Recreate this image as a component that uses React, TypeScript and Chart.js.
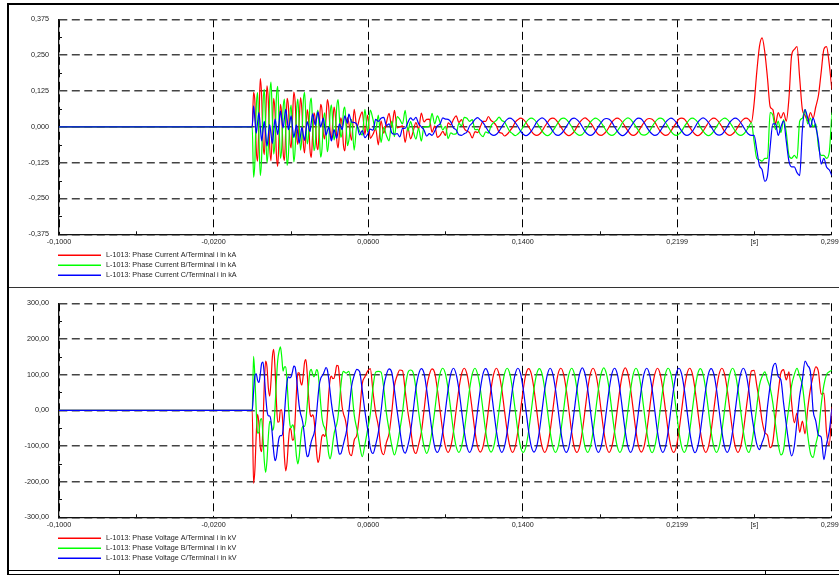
import React, { useEffect, useRef } from 'react';
import { Chart, registerables } from 'chart.js';

Chart.register(...registerables);

const FONT_FAMILY = "'Liberation Sans', Arial, Helvetica, sans-serif";
const FONT_SIZE = 7.2;
const TEXT_COLOR = '#222222';

// Time axis (s)
const T_MIN = -0.1;
const T_MAX = 0.2999;
const X_TICK_VALUES = [-0.1, -0.02, 0.06, 0.14, 0.2199, 0.2599, 0.2999];
const X_TICK_LABELS = ['-0,1000', '-0,0200', '0,0600', '0,1400', '0,2199', '[s]', '0,2999'];

const CURRENT_TICKS = [-0.375, -0.25, -0.125, 0, 0.125, 0.25, 0.375];
const VOLTAGE_TICKS = [-300, -200, -100, 0, 100, 200, 300];

// Recording: de-energised until the breaker closes, then a fine sampled
// switching transient, then the rest of the record at 720 samples/s.
const CLOSE_TIME = 0;
const FINE_STEP = 1 / 1440;
const COARSE_START = 0.05;
const COARSE_STEP = 1 / 720;

const PHASE_COLORS = ['#ff0000', '#00ff00', '#0000ff'];

const CURRENT_LABELS = [
  'L-1013: Phase Current A/Terminal i in kA',
  'L-1013: Phase Current B/Terminal i in kA',
  'L-1013: Phase Current C/Terminal i in kA',
];
const VOLTAGE_LABELS = [
  'L-1013: Phase Voltage A/Terminal i in kV',
  'L-1013: Phase Voltage B/Terminal i in kV',
  'L-1013: Phase Voltage C/Terminal i in kV',
];

// ---- Phase currents, kA ----
const CURRENT_A_FINE = [
  0, 0.120, 0.086, -0.077, -0.120, 0.021, 0.168, 0.109, -0.049, -0.097,
  0.026, 0.143, 0.090, -0.066, -0.118, -0.008, 0.099, 0.048, -0.094, -0.138,
  -0.030, 0.078, 0.039, -0.085, -0.117, -0.008, 0.099, 0.069, -0.044, -0.074,
  0.026, 0.121, 0.086, -0.026, -0.062, 0.021, 0.102, 0.060, -0.052, -0.091,
  -0.015, 0.060, 0.023, -0.077, -0.107, -0.029, 0.049, 0.025, -0.060, -0.080,
  0, 0.078, 0.058, -0.021, -0.042, 0.029, 0.095, 0.069, -0.013, -0.042,
  0.015, 0.069, 0.037, -0.045, -0.074, -0.021, 0.031, 0.006, -0.065, -0.084,
  -0.026, 0.032,
];
const CURRENT_B_FINE = [
  0, -0.176, -0.121, 0.065, 0.119, -0.029, -0.170, -0.109, 0.072, 0.131,
  0, -0.126, -0.068, 0.102, 0.156, 0.029, -0.095, -0.047, 0.101, 0.141,
  0.015, -0.110, -0.072, 0.062, 0.097, -0.021, -0.135, -0.096, 0.035, 0.076,
  -0.026, -0.122, -0.077, 0.053, 0.097, 0.008, -0.081, -0.036, 0.083, 0.120,
  0.030, -0.060, -0.028, 0.074, 0.100, 0.008, -0.083, -0.059, 0.035, 0.058,
  -0.026, -0.106, -0.077, 0.017, 0.049, -0.021, -0.087, -0.052, 0.043, 0.077,
  0.015, -0.046, -0.015, 0.070, 0.095, 0.029, -0.037, -0.018, 0.054, 0.069,
  0, -0.066,
];
const CURRENT_C_FINE = [
  0, 0.073, 0.026, -0.022, 0.015, 0.050, 0, -0.049, -0.015, 0.019,
  -0.026, -0.067, -0.030, 0.008, -0.026, -0.058, -0.015, 0.027, 0, -0.027,
  0.015, 0.055, 0.026, -0.004, 0.030, 0.061, 0.026, -0.010, 0.015, 0.038,
  0, -0.037, -0.015, 0.007, -0.026, -0.057, -0.030, -0.002, -0.026, -0.047,
  -0.015, 0.018, 0, -0.017, 0.015, 0.045, 0.026, 0.006, 0.030, 0.052,
  0.026, -0.001, 0.015, 0.030, 0, -0.029, -0.015, -0.001, -0.026, -0.049,
  -0.030, -0.010, -0.026, -0.040, -0.015, 0.010, 0, -0.010, 0.015, 0.038,
  0.026, 0.012,
];

const CURRENT_A_COARSE = [
  0.014, -0.047, 0.061, -0.002, 0.030, 0.052, -0.027, 0.041, -0.040, -0.026, -0.006, -0.063,
  0.021, -0.022, 0.015, 0.047, -0.002, 0.057, -0.004, 0, 0.003, -0.054, -0.003, -0.042,
  -0.015, 0.015, -0.008, 0.048, 0.017, 0.026, 0.027, -0.019, 0.003, -0.037, -0.030, -0.016,
  -0.030, 0.014, 0.007, 0.026, 0.038, 0.015, 0.025, -0.006, -0.015, -0.020, -0.039, -0.017,
  -0.020, 0, 0.019, 0.019, 0.036, 0.022, 0.015, 0.003, -0.019, -0.022, -0.032, -0.026,
  -0.014, -0.002, 0.016, 0.025, 0.030, 0.026, 0.015, 0, -0.015, -0.026, -0.030, -0.026,
  -0.015, 0.001, 0.015, 0.027, 0.030, 0.026, 0.014, 0, -0.015, -0.026, -0.031, -0.026,
  -0.016, 0, 0.015, 0.026, 0.031, 0.025, 0.015, 0.001, -0.015, -0.027, -0.030, -0.025,
  -0.015, 0, 0.016, 0.026, 0.030, 0.026, 0.015, 0, -0.014, -0.026, -0.030, -0.026,
  -0.014, 0.001, 0.015, 0.026, 0.029, 0.026, 0.016, 0, -0.015, -0.025, -0.030, -0.027,
  -0.015, 0, 0.014, 0.027, 0.030, 0.027, 0.015, -0.001, -0.015, -0.026, -0.031, -0.026,
  -0.015, 0, 0.015, 0.026, 0.030, 0.026, 0.015, 0, -0.016, -0.026, -0.030, -0.025,
  -0.015, 0, 0.015, 0.026, 0.030, 0.026, 0.015, 0.080, 0.190, 0.280, 0.310, 0.260,
  0.170, 0.070, 0.060, 0.010, 0.050, 0.030, 0.050, 0.020, 0.100, 0.250, 0.270, 0.280,
  0.170, 0.060, 0.040, 0.020, 0.050, 0.030, 0.070, 0.110, 0.190, 0.270, 0.280, 0.220,
  0.130,
];
const CURRENT_B_COARSE = [
  -0.047, 0.026, -0.081, 0.005, -0.015, -0.029, 0.061, -0.019, 0.058, 0.026, -0.011, 0.041,
  -0.055, -0.002, -0.030, -0.049, 0.020, -0.034, 0.036, 0.026, 0.010, 0.057, -0.015, 0.018,
  -0.015, -0.043, -0.005, -0.050, -0.001, 0, 0.002, 0.047, 0.010, 0.038, 0.015, -0.011,
  0.002, -0.041, -0.021, -0.026, -0.024, 0.012, 0.004, 0.033, 0.030, 0.019, 0.025, -0.010,
  -0.009, -0.026, -0.034, -0.018, -0.022, 0.004, 0.015, 0.023, 0.034, 0.022, 0.017, 0,
  -0.016, -0.024, -0.031, -0.025, -0.015, 0, 0.015, 0.026, 0.030, 0.026, 0.015, 0,
  -0.015, -0.026, -0.031, -0.026, -0.014, 0, 0.015, 0.027, 0.030, 0.026, 0.015, 0.001,
  -0.016, -0.025, -0.030, -0.027, -0.015, 0, 0.016, 0.026, 0.030, 0.025, 0.015, 0,
  -0.015, -0.026, -0.030, -0.026, -0.015, -0.001, 0.015, 0.026, 0.031, 0.026, 0.014, 0,
  -0.014, -0.027, -0.029, -0.026, -0.016, 0, 0.015, 0.026, 0.030, 0.027, 0.015, 0,
  -0.015, -0.026, -0.030, -0.025, -0.015, 0.001, 0.014, 0.026, 0.030, 0.026, 0.016, -0.001,
  -0.015, -0.026, -0.031, -0.026, -0.015, 0, 0.015, 0.025, 0.030, 0.026, 0.015, 0,
  -0.015, -0.026, -0.030, -0.026, -0.015, 0, 0.015, -0.050, -0.110, -0.115, -0.120, -0.110,
  -0.110, 0.050, 0.040, -0.010, 0.020, -0.020, 0.025, -0.020, -0.100, -0.110, -0.100, -0.110,
  0.020, 0.030, 0.060, 0.010, 0.030, 0, 0.010, -0.070, -0.100, -0.100, -0.110, -0.090,
  0.050,
];
const CURRENT_C_COARSE = [
  0.044, 0.017, 0.015, 0.008, -0.028, -0.013, -0.038, -0.026, -0.008, -0.012, 0.026, 0.019,
  0.030, 0.033, 0.005, 0.010, -0.021, -0.026, -0.024, -0.035, -0.006, -0.005, 0.015, 0.031,
  0.023, 0.033, 0.011, 0, -0.011, -0.032, -0.024, -0.030, -0.015, 0.003, 0.010, 0.031,
  0.027, 0.026, 0.017, -0.004, -0.011, -0.028, -0.030, -0.024, -0.018, 0.003, 0.013, 0.026,
  0.032, 0.024, 0.015, 0, -0.015, -0.026, -0.030, -0.026, -0.015, 0, 0.015, 0.026,
  0.030, 0.026, 0.015, 0.001, -0.015, -0.026, -0.031, -0.026, -0.015, 0, 0.016, 0.026,
  0.031, 0.026, 0.014, 0, -0.015, -0.027, -0.030, -0.025, -0.015, 0, 0.015, 0.027,
  0.030, 0.025, 0.015, 0, -0.016, -0.026, -0.030, -0.026, -0.014, 0.001, 0.015, 0.026,
  0.029, 0.026, 0.016, 0, -0.015, -0.026, -0.031, -0.026, -0.015, 0, 0.014, 0.026,
  0.030, 0.027, 0.015, -0.001, -0.015, -0.025, -0.030, -0.027, -0.015, 0, 0.015, 0.025,
  0.030, 0.026, 0.015, 0, -0.014, -0.026, -0.030, -0.026, -0.016, -0.001, 0.015, 0.026,
  0.031, 0.026, 0.015, 0, -0.015, -0.026, -0.029, -0.026, -0.015, 0, 0.016, 0.026,
  0.030, 0.026, 0.015, 0, -0.015, -0.026, -0.030, -0.030, -0.080, -0.135, -0.150, -0.190,
  -0.170, -0.070, 0.010, 0.010, -0.030, 0, 0.020, -0.050, -0.120, -0.140, -0.140, -0.160,
  -0.170, -0.010, 0.060, 0.030, 0, 0.030, 0, -0.050, -0.130, -0.110, -0.140, -0.150,
  -0.170,
];

// ---- Phase voltages, kV ----
const VOLTAGE_A_FINE = [
  0, -205, -166, -67, -11, -38, -103, -116, -42, 72,
  138, 122, 64, 40, 82, 149, 171, 117, 26, -33,
  -32, 0, 1, -54, -131, -170, -145, -87, -50, -57,
  -84, -80, -24, 54, 105, 105, 80, 71, 97, 134,
  142, 102, 40, -6, -18, -13, -24, -66, -119, -146,
  -134, -99, -72, -68, -73, -59, -14, 44, 85, 96,
  89, 90, 106, 126, 125, 94, 48, 10, -10, -21,
  -39, -73,
];
const VOLTAGE_B_FINE = [
  0, 151, 93, -2, -64, -62, -28, -23, -73, -142,
  -174, -141, -75, -31, -34, -56, -48, 7, 82, 140,
  165, 178, 150, 110, 122, 122, 78, 12, -37, -49,
  -41, -49, -85, -130, -150, -130, -87, -53, -44, -45,
  -28, 17, 72, 109, 115, 102, 94, 102, 114, 106,
  70, 20, -21, -41, -49, -63, -92, -123, -136, -123,
  -93, -66, -51, -39, -16, 23, 67, 98, 109, 107,
  104, 107,
];
const VOLTAGE_C_FINE = [
  0, 51, 97, 102, 84, 78, 101, 131, 135, 99,
  43, 0, -15, -16, -30, -69, -116, -141, -131, -101,
  -77, -71, -71, -55, -12, 42, 81, 94, 91, 94,
  108, 124, 121, 92, 50, 13, -9, -22, -42, -75,
  -110, -130, -126, -107, -88, -76, -66, -45, -7, 37,
  72, 89, 96, 102, 112, 120, 113, 88, 54, 21,
  -5, -26, -49, -78, -107, -123, -122, -110, -94, -79,
  -63, -39,
];

const VOLTAGE_A_COARSE = [
  -112, -127, -84, -68, -8, 75, 94, 110, 117, 52, -7, -45,
  -108, -124, -90, -65, -5, 69, 97, 113, 111, 55, -4, -51,
  -105, -121, -96, -62, -2, 63, 100, 116, 105, 58, -1, -59,
  -102, -118, -101, -59, 1, 59, 102, 118, 102, 58, 0, -59,
  -102, -117, -102, -59, 0, 60, 102, 118, 101, 59, -1, -59,
  -101, -118, -102, -58, 0, 59, 102, 117, 102, 59, 0, -60,
  -102, -118, -102, -59, 0, 59, 103, 118, 102, 59, 1, -59,
  -103, -118, -102, -59, -1, 59, 102, 118, 102, 60, 0, -58,
  -102, -118, -102, -60, 0, 58, 102, 119, 102, 59, 0, -59,
  -102, -117, -102, -59, 0, 59, 101, 118, 102, 59, 0, -59,
  -102, -118, -103, -59, 0, 59, 102, 118, 103, 59, 0, -59,
  -101, -118, -102, -59, 1, 59, 102, 118, 102, 58, -1, -59,
  -102, -118, -102, -59, 0, 59, 110, 112, 70, 25, -30, -62,
  -70, -105, -88, -20, 50, 105, 114, 85, 108, 20, -35, -8,
  -62, -30, -66, 5, 60, 95, 122, 108, 45, 48, -62, -98,
  10,
];
const VOLTAGE_B_COARSE = [
  109, 65, -13, -53, -96, -130, -96, -54, -11, 64, 107, 109,
  107, 63, -8, -55, -98, -125, -99, -56, -6, 62, 105, 113,
  105, 61, -4, -57, -100, -121, -101, -58, -2, 60, 103, 118,
  102, 59, 1, -59, -102, -118, -101, -59, 0, 59, 102, 118,
  101, 59, 0, -60, -102, -117, -102, -59, 1, 59, 102, 118,
  102, 58, 0, -59, -103, -118, -102, -58, 0, 60, 102, 117,
  102, 59, 0, -59, -102, -118, -102, -59, -1, 59, 101, 118,
  103, 59, 0, -58, -102, -118, -102, -60, 0, 59, 102, 119,
  102, 60, 0, -59, -101, -118, -102, -59, 0, 58, 102, 118,
  102, 59, -1, -59, -102, -119, -102, -59, 0, 59, 103, 118,
  102, 59, 0, -59, -102, -118, -101, -59, 1, 59, 102, 117,
  101, 59, 0, -60, -102, -118, -102, -59, 0, 59, 102, 118,
  102, 59, 0, -59, -102, -118, -98, -50, 10, 70, 95, 108,
  85, 62, 20, -40, -95, -125, -110, -45, 10, 70, 100, 118,
  95, 70, 5, -70, -120, -132, -95, -60, 15, 70, 100, 108,
  112,
];
const VOLTAGE_C_COARSE = [
  -4, 66, 98, 115, 109, 56, -3, -53, -105, -121, -96, -62,
  -3, 64, 100, 116, 106, 57, -2, -55, -104, -120, -99, -61,
  -1, 62, 101, 117, 104, 58, -1, -58, -103, -118, -102, -59,
  0, 59, 102, 118, 101, 59, 0, -59, -102, -118, -102, -59,
  1, 59, 102, 117, 102, 59, -1, -59, -101, -118, -102, -60,
  0, 60, 102, 118, 102, 58, 0, -59, -102, -117, -102, -59,
  0, 59, 101, 118, 102, 59, 1, -59, -102, -118, -103, -59,
  -1, 59, 102, 119, 102, 59, 0, -58, -102, -118, -102, -59,
  0, 58, 102, 118, 103, 59, 0, -59, -102, -118, -101, -59,
  0, 59, 102, 118, 102, 60, 0, -60, -102, -118, -102, -58,
  1, 59, 103, 118, 102, 59, 0, -59, -101, -119, -102, -59,
  0, 59, 102, 117, 102, 59, -1, -59, -102, -118, -102, -59,
  0, 59, 102, 118, 102, 59, -5, -55, -95, -110, -90, -65,
  10, 70, 120, 132, 95, 85, 20, -40, -95, -128, -100, -30,
  40, 85, 138, 125, 108, 0, -30, -70, -75, -138, -95, -60,
  5,
];

const CURRENT_SERIES = [
  { fine: CURRENT_A_FINE, coarse: CURRENT_A_COARSE },
  { fine: CURRENT_B_FINE, coarse: CURRENT_B_COARSE },
  { fine: CURRENT_C_FINE, coarse: CURRENT_C_COARSE },
];
const VOLTAGE_SERIES = [
  { fine: VOLTAGE_A_FINE, coarse: VOLTAGE_A_COARSE },
  { fine: VOLTAGE_B_FINE, coarse: VOLTAGE_B_COARSE },
  { fine: VOLTAGE_C_FINE, coarse: VOLTAGE_C_COARSE },
];

function toPoints(fine: number[], coarse: number[]) {
  const pts: { x: number; y: number }[] = [{ x: T_MIN, y: 0 }];
  fine.forEach((y, i) => pts.push({ x: CLOSE_TIME + i * FINE_STEP, y }));
  coarse.forEach((y, i) => pts.push({ x: COARSE_START + i * COARSE_STEP, y }));
  return pts;
}

// Short inward tick marks half way between the labelled ticks.
const minorTicks = {
  id: 'minorTicks',
  afterDraw(chart: any) {
    const { ctx, chartArea, scales } = chart;
    const xs = scales.x;
    const ys = scales.y;
    ctx.save();
    ctx.setLineDash([]);
    ctx.strokeStyle = '#111';
    ctx.lineWidth = 1;
    const xMajor = X_TICK_VALUES.filter((_, i) => X_TICK_LABELS[i] !== '[s]');
    for (let i = 0; i < xMajor.length - 1; i++) {
      const px = Math.round(xs.getPixelForValue((xMajor[i] + xMajor[i + 1]) / 2)) + 0.5;
      ctx.beginPath();
      ctx.moveTo(px, chartArea.bottom);
      ctx.lineTo(px, chartArea.bottom - 3);
      ctx.stroke();
    }
    const yMajor = ys.ticks.map((t: any) => t.value);
    for (let i = 0; i < yMajor.length - 1; i++) {
      const py = Math.round(ys.getPixelForValue((yMajor[i] + yMajor[i + 1]) / 2)) + 0.5;
      ctx.beginPath();
      ctx.moveTo(chartArea.left, py);
      ctx.lineTo(chartArea.left + 3, py);
      ctx.stroke();
    }
    ctx.restore();
  },
};

// Stacked legend under the time axis.
const stackedLegend = {
  id: 'stackedLegend',
  afterDraw(chart: any) {
    const { ctx, chartArea } = chart;
    ctx.save();
    ctx.setLineDash([]);
    ctx.globalAlpha = 1;
    ctx.font = `${FONT_SIZE}px ${FONT_FAMILY}`;
    ctx.textBaseline = 'middle';
    ctx.textAlign = 'left';
    chart.data.datasets.forEach((ds: any, i: number) => {
      const yy = Math.round(chartArea.bottom + 20.4 + i * 10.3);
      ctx.fillStyle = ds.borderColor;
      ctx.fillRect(chartArea.left - 1, yy - 0.5, 43, 1.5);
      ctx.fillStyle = TEXT_COLOR;
      ctx.fillText(ds.label, chartArea.left + 47, yy + 0.5);
    });
    ctx.restore();
  },
};

type PanelProps = {
  top: number;
  height: number;
  padTop: number;
  labels: string[];
  series: { fine: number[]; coarse: number[] }[];
  yTicks: number[];
  decimals: number;
};

const CANVAS_WIDTH = 850;

function WavePanel({ top, height, padTop, labels, series, yTicks, decimals }: PanelProps) {
  const ref = useRef<HTMLCanvasElement | null>(null);

  useEffect(() => {
    if (!ref.current) return;
    const font = { family: FONT_FAMILY, size: FONT_SIZE };
    const chart = new Chart(ref.current, {
      type: 'line',
      data: {
        datasets: series.map((s, i) => ({
          label: labels[i],
          data: toPoints(s.fine, s.coarse),
          borderColor: PHASE_COLORS[i],
          backgroundColor: PHASE_COLORS[i],
          borderWidth: 1.2,
          pointRadius: 0,
          fill: false,
          cubicInterpolationMode: 'monotone',
          order: series.length - 1 - i,
        })),
      },
      options: {
        animation: false,
        responsive: false,
        maintainAspectRatio: false,
        events: [],
        layout: { padding: { left: 0, top: padTop, right: 27.3, bottom: 32.7 } },
        plugins: {
          legend: { display: false },
          tooltip: { enabled: false },
        },
        scales: {
          x: {
            type: 'linear',
            min: T_MIN,
            max: T_MAX,
            afterBuildTicks: (s: any) => {
              s.ticks = X_TICK_VALUES.map((v) => ({ value: v }));
            },
            afterFit: (s: any) => {
              s.height = 20;
            },
            ticks: {
              autoSkip: false,
              maxRotation: 0,
              minRotation: 0,
              padding: 3.7,
              color: TEXT_COLOR,
              font,
              callback: (_v: any, i: number) => X_TICK_LABELS[i],
            },
            grid: {
              color: (c: any) => (X_TICK_LABELS[c.index] === '[s]' ? 'rgba(0,0,0,0)' : '#000000'),
              lineWidth: 1,
              drawTicks: false,
            },
            border: { display: true, color: '#111111', width: 1.3, dash: [8, 4.5] },
          },
          y: {
            type: 'linear',
            min: yTicks[0],
            max: yTicks[yTicks.length - 1],
            afterBuildTicks: (s: any) => {
              s.ticks = yTicks.map((v) => ({ value: v }));
            },
            afterFit: (s: any) => {
              s.width = 50;
            },
            ticks: {
              padding: 10,
              color: TEXT_COLOR,
              font,
              callback: (v: any) => Number(v).toFixed(decimals).replace('.', ','),
            },
            grid: { color: '#444444', lineWidth: 1.5, drawTicks: false },
            border: { display: true, color: '#111111', width: 1.3, dash: [8, 4.5] },
          },
        },
      },
      plugins: [minorTicks, stackedLegend],
    } as any);
    return () => chart.destroy();
  }, []);

  return (
    <canvas
      ref={ref}
      width={CANVAS_WIDTH}
      height={height}
      style={{ position: 'absolute', left: 9, top, width: CANVAS_WIDTH, height }}
    />
  );
}

const line = (left: number, top: number, width: number, height: number, color = '#000') => (
  <div style={{ position: 'absolute', left, top, width, height, background: color }} />
);

export default function App() {
  return (
    <div
      style={{
        position: 'fixed',
        left: 0,
        top: 0,
        width: 839,
        height: 576,
        overflow: 'hidden',
        background: '#ffffff',
      }}
    >
      <WavePanel
        top={5}
        height={282}
        padTop={14}
        labels={CURRENT_LABELS}
        series={CURRENT_SERIES}
        yTicks={CURRENT_TICKS}
        decimals={3}
      />
      <WavePanel
        top={289}
        height={281}
        padTop={12.7}
        labels={VOLTAGE_LABELS}
        series={VOLTAGE_SERIES}
        yTicks={VOLTAGE_TICKS}
        decimals={2}
      />
      {line(7, 3, 832, 2)}
      {line(7, 3, 2, 572)}
      {line(9, 287, 830, 1, '#333')}
      {line(7, 570, 832, 1)}
      {line(7, 574, 832, 1)}
      {line(119, 570, 1, 5)}
      {line(765, 570, 1, 5)}
    </div>
  );
}
